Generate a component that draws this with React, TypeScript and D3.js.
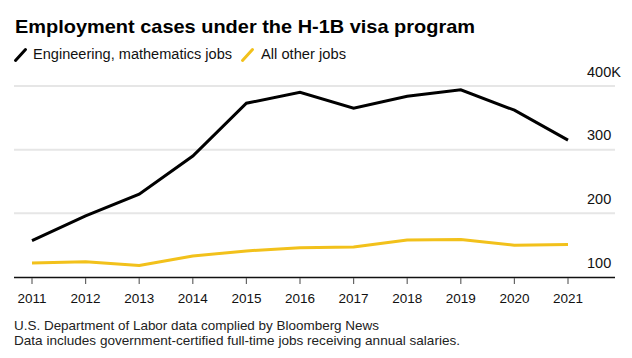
import React from "react";
import * as d3 from "d3";

const years = [2011, 2012, 2013, 2014, 2015, 2016, 2017, 2018, 2019, 2020, 2021];
const engineering = [157, 196, 230, 290, 373, 390, 365, 384, 394, 362, 315];
const otherJobs = [122, 124, 118, 133, 141, 146, 147, 158, 159, 150, 151];
const yTicks = [100, 200, 300, 400];
const yTickLabels = ["100", "200", "300", "400K"];

const title = "Employment cases under the H-1B visa program";
const legendLabels = ["Engineering, mathematics jobs", "All other jobs"];
const notes = [
  "U.S. Department of Labor data complied by Bloomberg News",
  "Data includes government-certified full-time jobs receiving annual salaries.",
];

const W = 632;
const H = 358;
const FONT = "'Liberation Sans', Arial, Helvetica, sans-serif";
const YELLOW = "#f2c11b";

export default function App() {
  const x = d3.scaleLinear().domain([2011, 2021]).range([32, 568]);
  const y = d3.scaleLinear().domain([100, 400]).range([277, 86]);
  const line = d3
    .line<number>()
    .x((_, i) => x(years[i]))
    .y((d) => y(d));

  return (
    <svg
      width={W}
      height={H}
      style={{ position: "absolute", left: 0, top: 0, background: "#fff" }}
      fontFamily={FONT}
    >
      <rect width={W} height={H} fill="#fff" />
      <text x={15} y={33} fontSize={19} fontWeight="bold" fill="#000" textLength={460} lengthAdjust="spacingAndGlyphs">
        {title}
      </text>
      {/* legend */}
      <path d="M15.5,60.5 L25.5,49.5" stroke="#000" strokeWidth={3} strokeLinecap="round" />
      <text x={33} y={58.5} fontSize={14} fill="#111" textLength={199} lengthAdjust="spacingAndGlyphs">
        {legendLabels[0]}
      </text>
      <path d="M242.5,60.5 L252.5,49.5" stroke={YELLOW} strokeWidth={3} strokeLinecap="round" />
      <text x={261} y={58.5} fontSize={14} fill="#111" textLength={85} lengthAdjust="spacingAndGlyphs">
        {legendLabels[1]}
      </text>

      {/* gridlines */}
      {yTicks.slice(1).map((t) => (
        <line key={t} x1={14} x2={615} y1={y(t)} y2={y(t)} stroke="#e6e6e6" strokeWidth={2} />
      ))}
      {yTicks.map((t, i) => (
        <text key={"l" + t} x={587} y={y(t) - 9.5} fontSize={14.5} fill="#111">
          {yTickLabels[i]}
        </text>
      ))}

      {/* x axis */}
      <line x1={14} x2={615} y1={277.5} y2={277.5} stroke="#111" strokeWidth={1.3} />
      {years.map((yr) => (
        <g key={yr}>
          <line x1={x(yr)} x2={x(yr)} y1={278} y2={284} stroke="#666" strokeWidth={1.2} />
          <text x={x(yr)} y={303} fontSize={13.5} textAnchor="middle" fill="#111">
            {yr}
          </text>
        </g>
      ))}

      {/* lines */}
      <path d={line(otherJobs) || ""} fill="none" stroke={YELLOW} strokeWidth={3} strokeLinejoin="round" />
      <path d={line(engineering) || ""} fill="none" stroke="#000" strokeWidth={3} strokeLinejoin="miter" />

      {/* notes */}
      <text x={14} y={330} fontSize={13.5} fill="#222" textLength={365} lengthAdjust="spacingAndGlyphs">
        {notes[0]}
      </text>
      <text x={14} y={345} fontSize={13.5} fill="#222" textLength={446} lengthAdjust="spacingAndGlyphs">
        {notes[1]}
      </text>
    </svg>
  );
}
